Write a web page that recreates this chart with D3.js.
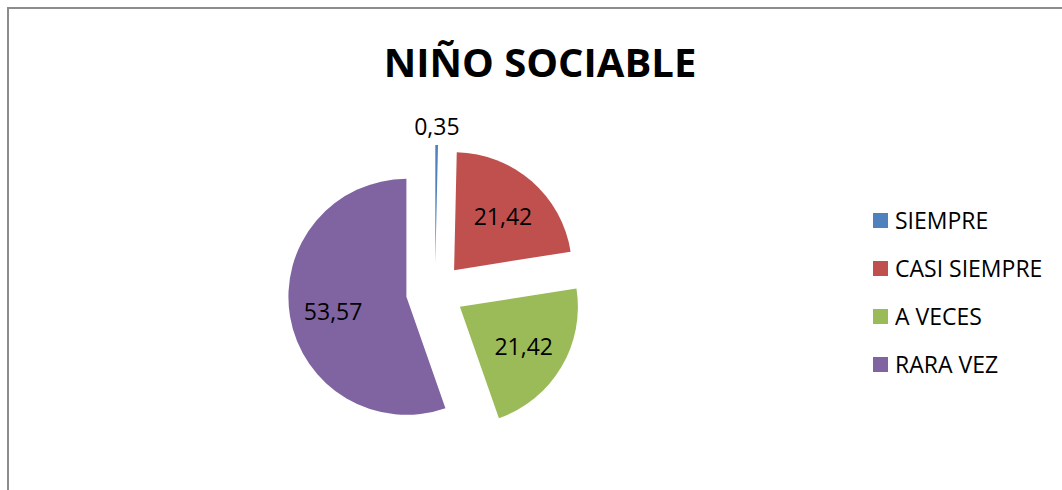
<!DOCTYPE html>
<html>
<head>
<meta charset="utf-8">
<title>Niño sociable</title>
<script src="https://d3js.org/d3.v7.min.js"></script>
<style>
  body { margin: 0; background: #fff; }
  text { font-family: "Open Sans", "DejaVu Sans", sans-serif; fill: #000; }
</style>
</head>
<body>
<svg width="1062" height="490"></svg>
<script>
// data
var categories = ["SIEMPRE", "CASI SIEMPRE", "A VECES", "RARA VEZ"];
var values = [0.35, 21.42, 21.42, 53.57];
var labels = ["0,35", "21,42", "21,42", "53,57"];
var colors = ["#4F81BD", "#C0504D", "#9BBB59", "#8064A2"];
var chartTitle = "NIÑO SOCIABLE";

var svg = d3.select("svg");

// chart frame (only top and left edges show in the picture)
svg.append("rect")
  .attr("x", 8).attr("y", 8)
  .attr("width", 1200).attr("height", 800)
  .attr("fill", "none")
  .attr("stroke", "#8c8c8c")
  .attr("stroke-width", 2);

svg.append("text")
  .attr("x", 540).attr("y", 77)
  .attr("text-anchor", "middle")
  .style("font-size", "40px")
  .style("font-weight", "bold")
  .text(chartTitle);

var cx = 435, cy = 292, R = 118, explode = 29;

var pie = d3.pie().sort(null).value(function(d) { return d; });
var arcs = pie(values);

var arc = d3.arc().innerRadius(0).outerRadius(R);
var labelArc = d3.arc().innerRadius(R * 0.26).outerRadius(R);

function offset(d, dist) {
  var a = (d.startAngle + d.endAngle) / 2;
  return [Math.sin(a) * dist, -Math.cos(a) * dist];
}

var g = svg.append("g").attr("transform", "translate(" + cx + "," + cy + ")");

var slice = g.selectAll(".slice")
  .data(arcs)
  .enter().append("g")
  .attr("class", "slice")
  .attr("transform", function(d) {
    var o = offset(d, explode);
    return "translate(" + o[0] + "," + o[1] + ")";
  });

slice.append("path")
  .attr("d", arc)
  .attr("fill", function(d, i) { return colors[i]; });

slice.append("text")
  .attr("transform", function(d, i) {
    var p;
    if (d.endAngle - d.startAngle < 0.1) {
      // tiny slice: label sits outside
      var a = (d.startAngle + d.endAngle) / 2;
      p = [Math.sin(a) * R * 1.17, -Math.cos(a) * R * 1.17];
    } else {
      p = labelArc.centroid(d);
    }
    return "translate(" + p[0] + "," + p[1] + ")";
  })
  .attr("text-anchor", "middle")
  .attr("dy", "0.45em")
  .style("font-size", "23px")
  .text(function(d, i) { return labels[i]; });

// legend
var legend = svg.append("g").attr("transform", "translate(873,213)");
var item = legend.selectAll(".item")
  .data(categories)
  .enter().append("g")
  .attr("class", "item")
  .attr("transform", function(d, i) { return "translate(0," + (i * 48) + ")"; });

item.append("rect")
  .attr("width", 15).attr("height", 15)
  .attr("fill", function(d, i) { return colors[i]; });

item.append("text")
  .attr("x", 22).attr("y", 16)
  .style("font-size", "23px")
  .text(function(d) { return d; });
</script>
</body>
</html>
